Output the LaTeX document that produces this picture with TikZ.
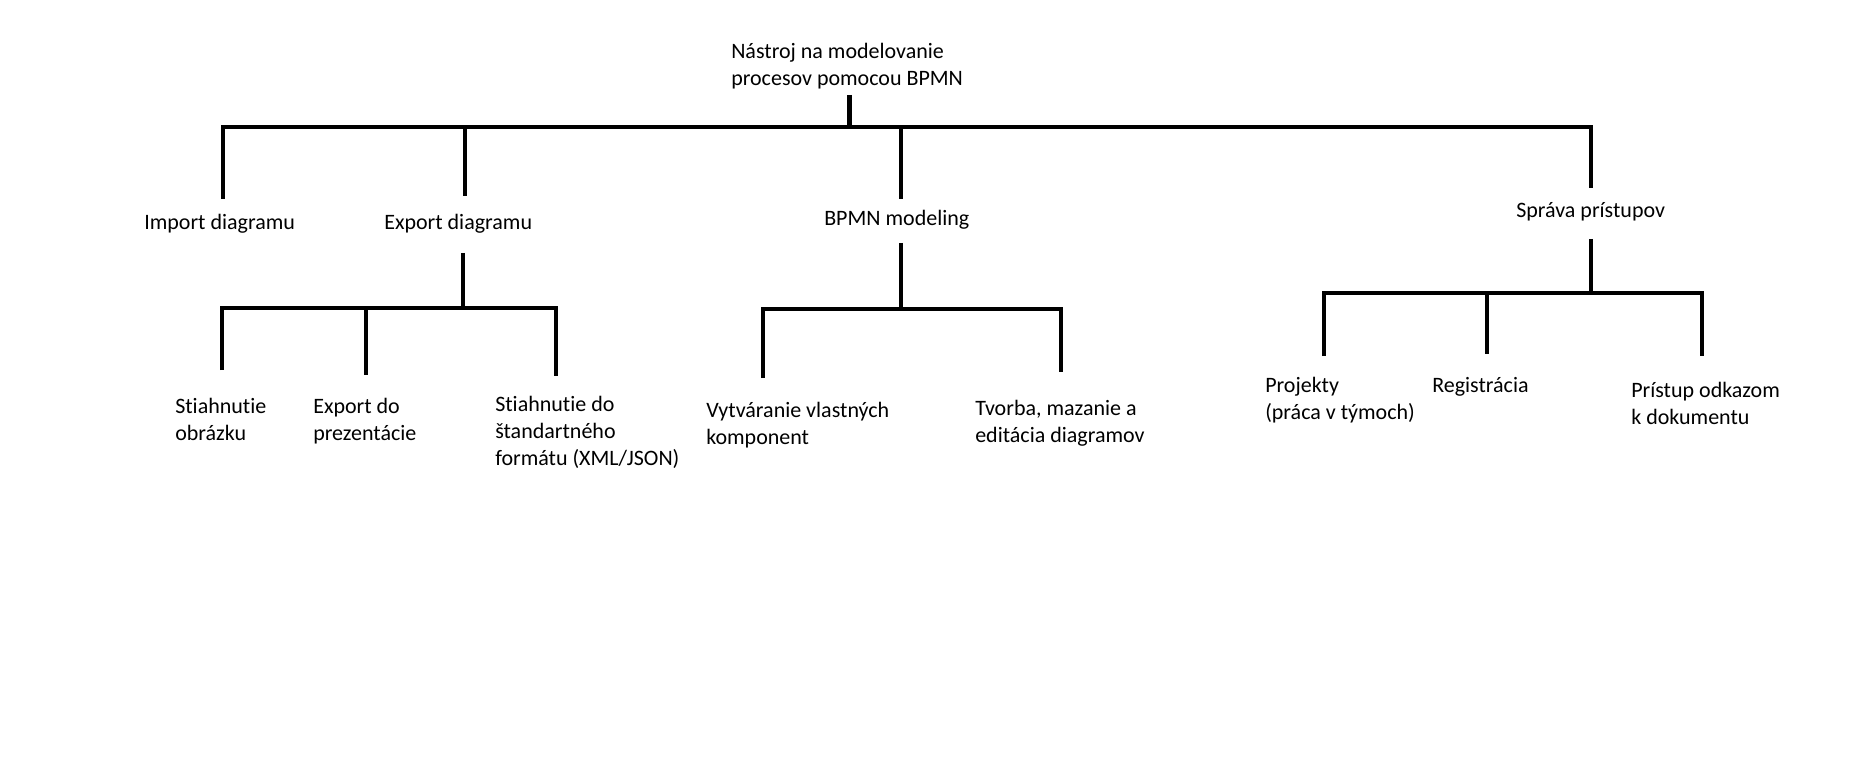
\documentclass[tikz,border=0pt]{standalone}
\usepackage{fontspec}
\setmainfont{Carlito}[Ligatures=CommonOff]
\begin{document}
\begin{tikzpicture}[x=0.75pt, y=-0.75pt]
    \tikzset{%
      lbl/.style={anchor=west, inner sep=0pt, align=left, font=\fontsize{16.5}{20.25}\selectfont},
      tree/.style={draw, line width=3.2pt, line join=miter},
      }
    \useasboundingbox (0,0) rectangle (1870,759);

    \node [lbl] (Xnastroj) at (731,66.5) {Nástroj na modelovanie\\procesov pomocou BPMN};

    \node [lbl] (Ximport) at (144,224) {Import diagramu};
    \node [lbl] (Xexport) at (384,224) {Export diagramu};
    \node [lbl] (Xbpmn) at (824,220) {BPMN modeling};
    \node [lbl] (Xsprava) at (1516,212) {Správa prístupov};

    \node [lbl] (Xobr) at (175,419.5) {Stiahnutie\\obrázku};
    \node [lbl] (Xprez) at (313,421.5) {Export do\\prezentácie};
    \node [lbl] (Xform) at (495,432) {Stiahnutie do\\štandartného\\formátu (XML/JSON)};
    \node [lbl] (Xkomp) at (706,425.5) {Vytváranie vlastných\\komponent};
    \node [lbl] (Xtvorba) at (975,423.5) {Tvorba, mazanie a\\editácia diagramov};
    \node [lbl] (Xproj) at (1265,400) {Projekty\\(práca v týmoch)};
    \node [lbl] (Xreg) at (1432,387) {Registrácia};
    \node [lbl] (Xodkaz) at (1631,403.5) {Prístup odkazom\\k dokumentu};

    \coordinate (Cnastroj) at (849.5,95);
    \coordinate (Cimport) at (223,199);
    \coordinate (Cexport) at (465,196);
    \coordinate (Cbpmn) at (901,199);
    \coordinate (Csprava) at (1591,188);
    \draw [tree, line width=3.6pt] (Cimport) -- (223,127) -- (1591,127) -- (Csprava);
    \draw [tree] (Cnastroj) -- (849.5,127);
    \draw [tree] (465,127) -- (Cexport);
    \draw [tree] (901,127) -- (Cbpmn);

    \coordinate (Dexport) at (463,253);
    \coordinate (Cobr) at (222,370);
    \coordinate (Cprez) at (366,375);
    \coordinate (Cform) at (556,376);
    \draw [tree] (Cobr) -- (222,308) -- (556,308) -- (Cform);
    \draw [tree] (366,308) -- (Cprez);
    \draw [tree] (Dexport) -- (463,308);

    \coordinate (Dbpmn) at (901,243);
    \coordinate (Ckomp) at (763,378);
    \coordinate (Ctvorba) at (1061,372);
    \draw [tree] (Ckomp) -- (763,309) -- (1061,309) -- (Ctvorba);
    \draw [tree] (Dbpmn) -- (901,309);

    \coordinate (Dsprava) at (1591,239);
    \coordinate (Cproj) at (1324,356);
    \coordinate (Creg) at (1487,354);
    \coordinate (Codkaz) at (1702,356);
    \draw [tree] (Cproj) -- (1324,293) -- (1702,293) -- (Codkaz);
    \draw [tree] (1487,293) -- (Creg);
    \draw [tree] (Dsprava) -- (1591,293);
  \end{tikzpicture}
\end{document}
